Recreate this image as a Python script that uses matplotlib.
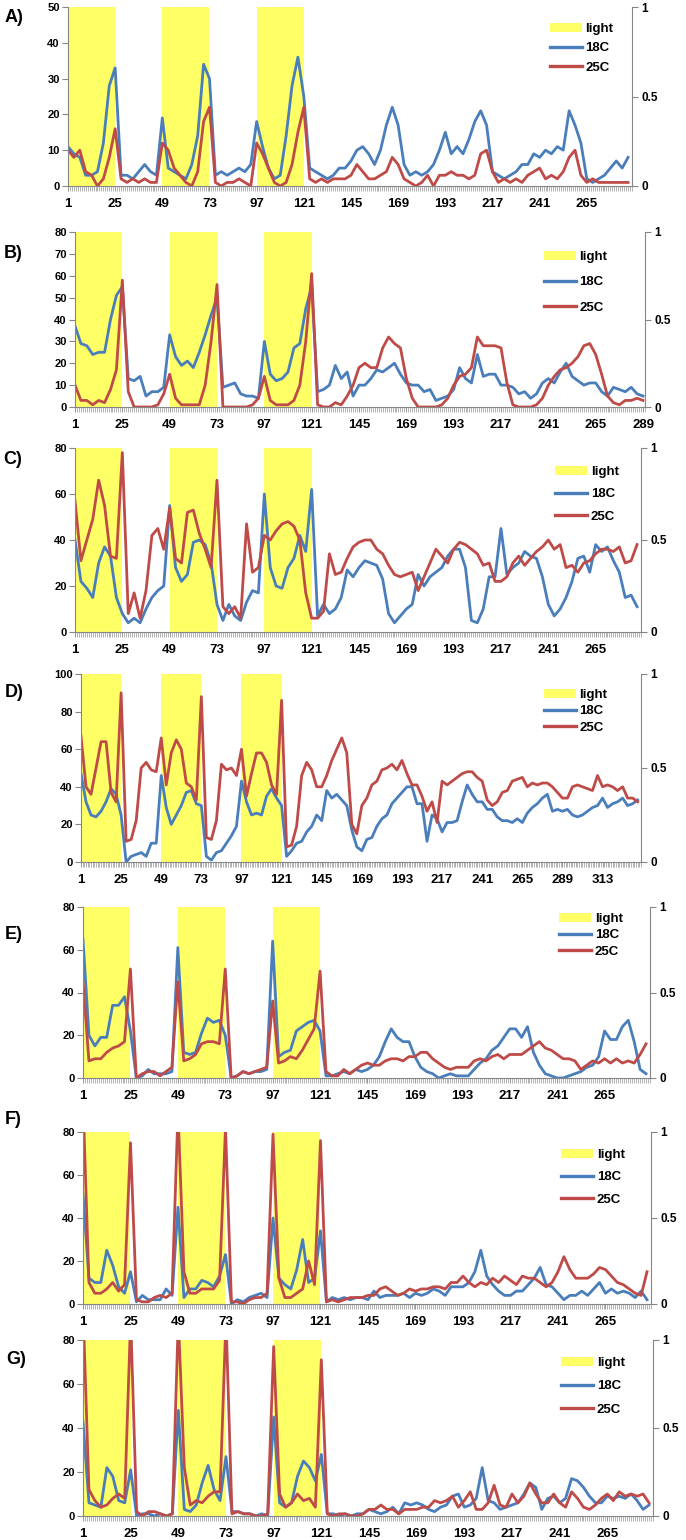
# Seven panels: 18C vs 25C time courses with light periods shaded
import numpy as np
import matplotlib
matplotlib.use("Agg")
import matplotlib.pyplot as plt
from matplotlib.patches import Patch
from matplotlib.lines import Line2D

plt.rcParams['font.family'] = ['Liberation Sans', 'DejaVu Sans']
plt.rcParams['font.weight'] = 'bold'

W, H = 686, 1540

# readings at every third time point (1, 4, 7, ...)
STEP = 3

# light periods in time points (same for every panel)
light_start = [1, 49, 97]
light_end = [25, 73, 121]

panel_names = ["A)", "B)", "C)", "D)", "E)", "F)", "G)"]
n_points = [288, 290, 288, 336, 288, 288, 288]
y_max = [50, 80, 80, 100, 80, 80, 80]
y_step = [10, 10, 20, 20, 20, 20, 20]

a_18c = [11, 9, 8, 3, 3, 4, 12, 28, 33, 3, 3, 2, 4, 6, 4, 3, 19, 5, 4, 3,
         2, 6, 14, 34, 30, 3, 4, 3, 4, 5, 4, 6, 18, 11, 5, 2, 3, 14, 28, 36,
         25, 5, 4, 3, 2, 3, 5, 5, 7, 10, 11, 9, 6, 10, 17, 22, 17, 6, 3, 4,
         3, 4, 6, 10, 15, 9, 11, 9, 13, 18, 21, 17, 4, 3, 2, 3, 4, 6, 6, 9,
         8, 10, 9, 11, 10, 21, 17, 12, 2, 1, 2, 3, 5, 7, 5, 8]
a_25c = [10, 8, 10, 4, 3, 0, 2, 8, 16, 2, 1, 2, 1, 2, 1, 1, 12, 10, 5, 3,
         1, 0, 4, 18, 22, 1, 0, 1, 1, 2, 1, 0, 12, 9, 5, 1, 0, 1, 6, 15,
         22, 2, 1, 2, 1, 2, 2, 2, 3, 6, 4, 2, 2, 3, 4, 8, 6, 2, 1, 0,
         1, 3, 0, 3, 3, 4, 3, 3, 2, 3, 9, 10, 4, 1, 2, 1, 2, 1, 3, 4,
         5, 2, 3, 2, 4, 8, 10, 3, 1, 2, 1, 1, 1, 1, 1, 1]

b_18c = [37, 29, 28, 24, 25, 25, 40, 51, 55, 13, 12, 14, 5, 7, 7, 9, 33, 23, 19, 21,
         18, 25, 33, 42, 50, 9, 10, 11, 6, 5, 5, 4, 30, 15, 12, 13, 16, 27, 29, 45,
         55, 7, 8, 10, 19, 13, 16, 5, 10, 10, 13, 17, 16, 18, 20, 15, 11, 10, 10, 7,
         8, 3, 4, 5, 8, 18, 13, 11, 24, 14, 15, 15, 10, 10, 9, 6, 7, 4, 6, 11,
         13, 11, 16, 20, 14, 12, 10, 11, 11, 7, 5, 9, 8, 7, 9, 6, 5]
b_25c = [10, 3, 3, 1, 3, 2, 8, 17, 58, 7, 0, 0, 0, 0, 1, 6, 15, 4, 1, 1,
         1, 1, 10, 30, 56, 0, 0, 0, 0, 0, 1, 4, 14, 3, 1, 1, 1, 3, 10, 30,
         61, 1, 0, 0, 2, 1, 5, 10, 18, 20, 18, 18, 27, 32, 29, 27, 13, 4, 0, 0,
         0, 0, 1, 4, 10, 14, 15, 18, 32, 28, 28, 28, 27, 11, 1, 0, 0, 0, 1, 4,
         10, 14, 17, 18, 20, 23, 28, 29, 24, 15, 5, 2, 1, 3, 3, 4, 3]

c_18c = [40, 22, 19, 15, 30, 37, 33, 15, 8, 4, 6, 4, 10, 15, 18, 20, 55, 28, 22, 25,
         39, 40, 38, 30, 12, 5, 12, 7, 5, 13, 18, 17, 60, 28, 20, 19, 28, 32, 42, 35,
         62, 7, 12, 8, 10, 15, 27, 24, 28, 31, 30, 29, 23, 8, 4, 7, 10, 12, 25, 20,
         24, 26, 28, 33, 36, 36, 28, 5, 4, 10, 24, 24, 45, 25, 28, 30, 35, 33, 32, 24,
         12, 7, 10, 15, 22, 32, 33, 26, 38, 35, 37, 31, 26, 15, 16, 11]
c_25c = [57, 31, 40, 49, 66, 55, 33, 32, 78, 8, 17, 6, 18, 42, 45, 36, 54, 32, 30, 52,
         53, 43, 36, 28, 66, 11, 8, 11, 6, 47, 26, 28, 42, 40, 44, 47, 48, 46, 40, 17,
         6, 6, 9, 34, 25, 26, 32, 37, 39, 40, 40, 36, 34, 29, 25, 24, 25, 26, 18, 24,
         30, 36, 33, 30, 36, 39, 38, 36, 34, 29, 30, 22, 22, 24, 30, 33, 29, 32, 35, 37,
         40, 36, 38, 28, 29, 26, 30, 31, 34, 36, 36, 35, 37, 30, 31, 38]

d_18c = [47, 32, 25, 24, 27, 32, 39, 36, 25, 0, 3, 4, 5, 3, 10, 10, 46, 29, 20, 25,
         30, 37, 38, 31, 30, 3, 1, 5, 6, 10, 14, 19, 43, 32, 25, 26, 25, 35, 39, 34,
         30, 3, 6, 10, 11, 16, 19, 25, 22, 38, 34, 36, 33, 30, 17, 8, 6, 12, 13, 19,
         23, 25, 31, 34, 37, 40, 40, 31, 31, 11, 25, 23, 16, 21, 21, 22, 32, 41, 36, 32,
         32, 28, 28, 24, 22, 22, 21, 23, 21, 26, 29, 31, 34, 36, 27, 28, 27, 28, 25, 24,
         25, 27, 29, 30, 34, 29, 31, 32, 34, 30, 31, 33]
d_25c = [67, 40, 36, 50, 64, 64, 37, 32, 90, 11, 12, 22, 50, 53, 49, 48, 66, 41, 58, 65,
         60, 42, 40, 33, 88, 13, 12, 22, 52, 49, 50, 46, 60, 35, 47, 58, 58, 53, 41, 36,
         86, 8, 9, 19, 46, 53, 49, 40, 40, 46, 54, 60, 66, 58, 20, 15, 30, 34, 41, 43,
         49, 50, 52, 49, 54, 47, 41, 41, 35, 27, 32, 21, 43, 41, 43, 45, 47, 48, 48, 45,
         43, 33, 30, 32, 37, 38, 43, 44, 45, 40, 42, 41, 42, 42, 40, 37, 34, 34, 40, 41,
         40, 39, 38, 46, 40, 41, 40, 38, 40, 34, 34, 32]

e_18c = [65, 20, 15, 19, 19, 34, 34, 38, 22, 0, 1, 4, 2, 2, 2, 3, 61, 12, 11, 12,
         21, 28, 26, 27, 20, 0, 1, 3, 2, 3, 3, 4, 64, 10, 12, 13, 22, 24, 26, 27,
         22, 1, 1, 2, 3, 2, 4, 3, 4, 6, 10, 17, 23, 19, 17, 17, 10, 5, 3, 2,
         0, 1, 2, 1, 1, 1, 4, 7, 9, 13, 15, 19, 23, 23, 19, 24, 12, 6, 2, 1,
         0, 0, 1, 2, 3, 5, 6, 10, 22, 18, 18, 24, 27, 17, 4, 2]
e_25c = [45, 8, 9, 9, 12, 14, 15, 17, 51, 0, 2, 3, 3, 1, 3, 5, 45, 8, 9, 11,
         16, 17, 17, 16, 51, 0, 1, 3, 2, 3, 4, 5, 36, 7, 8, 10, 9, 13, 18, 23,
         50, 3, 1, 1, 4, 2, 4, 6, 7, 6, 6, 8, 9, 9, 8, 10, 10, 12, 12, 9,
         7, 5, 4, 5, 5, 5, 8, 9, 8, 10, 11, 9, 11, 11, 11, 13, 15, 17, 14, 13,
         11, 9, 9, 8, 4, 6, 8, 7, 9, 7, 9, 7, 8, 7, 11, 16]

f_18c = [51, 12, 10, 10, 25, 18, 8, 5, 15, 1, 4, 2, 2, 2, 7, 4, 45, 3, 7, 7,
         11, 10, 8, 13, 23, 0, 2, 1, 3, 4, 5, 3, 40, 12, 9, 7, 16, 30, 10, 12,
         34, 1, 3, 2, 3, 2, 3, 3, 2, 6, 3, 4, 4, 4, 5, 3, 5, 4, 5, 7,
         6, 4, 8, 8, 8, 10, 15, 25, 13, 9, 6, 4, 4, 6, 6, 9, 12, 17, 9, 8,
         5, 2, 4, 4, 6, 4, 7, 10, 5, 7, 5, 6, 5, 3, 6, 2]
f_25c = [95, 10, 5, 5, 7, 10, 6, 9, 75, 2, 1, 1, 3, 4, 3, 5, 90, 15, 5, 5,
         7, 7, 7, 11, 82, 1, 1, 0, 2, 3, 3, 5, 79, 12, 3, 3, 5, 7, 20, 9,
         76, 1, 2, 1, 2, 3, 3, 3, 4, 4, 7, 8, 6, 4, 5, 7, 6, 7, 7, 8,
         8, 7, 10, 10, 13, 10, 8, 10, 9, 12, 10, 13, 11, 9, 13, 12, 12, 10, 8, 10,
         15, 22, 16, 12, 12, 12, 14, 17, 16, 13, 10, 9, 7, 5, 4, 15]

g_18c = [43, 6, 5, 4, 22, 18, 7, 6, 21, 0, 1, 1, 0, 1, 0, 1, 48, 3, 2, 5,
         15, 23, 12, 7, 27, 2, 2, 1, 1, 0, 1, 0, 45, 6, 4, 6, 18, 25, 22, 16,
         28, 1, 1, 0, 1, 0, 1, 1, 3, 2, 1, 2, 4, 1, 6, 5, 6, 5, 3, 2,
         4, 5, 9, 10, 4, 5, 8, 22, 7, 6, 3, 4, 5, 6, 10, 15, 13, 3, 8, 9,
         6, 8, 17, 16, 13, 9, 6, 6, 9, 8, 9, 8, 10, 7, 3, 5]
g_25c = [95, 12, 7, 4, 5, 8, 10, 8, 90, 2, 0, 2, 2, 1, 0, 1, 90, 22, 5, 7,
         6, 9, 11, 11, 90, 1, 2, 1, 1, 0, 0, 1, 77, 10, 4, 6, 10, 7, 8, 4,
         71, 1, 0, 1, 1, 0, 0, 1, 3, 3, 5, 3, 3, 1, 3, 3, 3, 4, 4, 7,
         6, 7, 9, 4, 7, 11, 3, 3, 6, 14, 5, 4, 10, 6, 9, 15, 10, 6, 6, 10,
         6, 4, 11, 8, 4, 3, 5, 8, 10, 7, 11, 9, 10, 9, 10, 6]

series_18c = [a_18c, b_18c, c_18c, d_18c, e_18c, f_18c, g_18c]
series_25c = [a_25c, b_25c, c_25c, d_25c, e_25c, f_25c, g_25c]

# plot boxes in pixels: left, top, right, bottom
boxes = [(68, 7, 632, 186), (75, 232, 645, 407), (75, 448, 641, 632),
         (81, 674, 641, 862), (83, 907, 650, 1078), (83, 1132, 651, 1304),
         (83, 1340, 653, 1516)]
# panel letter centres in pixels
name_pos = [(14, 18), (13, 253), (13, 460), (14, 693), (14, 935), (13, 1120), (16, 1360)]
# legend: left of patch, centre of first row, row spacing (pixels)
legend_pos = [(550, 29, 19), (544, 257, 25), (555, 472, 22), (544, 695, 16),
              (559, 919, 16), (561, 1155, 22), (561, 1363, 23)]

BLUE = '#4A7EBB'
RED = '#BE4B48'
YELLOW = '#FFFF66'
GRAY = '#868686'


def draw_panel(fig, i):
    l, t, r, b = boxes[i]
    n = n_points[i]
    ax = fig.add_axes([l / W, 1 - b / H, (r - l) / W, (b - t) / H])
    ax2 = ax.twinx()

    # light periods as columns on the secondary axis
    starts = np.array(light_start)
    widths = np.array(light_end) - starts
    ax2.bar(starts, np.ones(len(starts)), width=widths, align='edge',
            color=YELLOW, linewidth=0)
    ax2.set_ylim(0, 1)
    ax2.set_yticks([0, 0.5, 1])
    ax2.set_yticklabels(['0', '0.5', '1'])
    ax2.tick_params(axis='y', length=4, width=0.8, color=GRAY, labelsize=8.5, pad=3)
    for s in ['top', 'left', 'bottom']:
        ax2.spines[s].set_visible(False)
    ax2.spines['right'].set_color(GRAY)

    s18 = series_18c[i]
    s25 = series_25c[i]
    x18 = 1 + STEP * np.arange(len(s18))
    x25 = 1 + STEP * np.arange(len(s25))
    ax.plot(x18, s18, color=BLUE, lw=2.0, solid_joinstyle='round')
    ax.plot(x25, s25, color=RED, lw=2.0, solid_joinstyle='round')

    # lines above the yellow columns
    ax.set_zorder(ax2.get_zorder() + 1)
    ax.patch.set_visible(False)

    ax.set_xlim(1, n)
    ax.set_ylim(0, y_max[i])
    ax.set_yticks(np.arange(0, y_max[i] + 1, y_step[i]))
    ax.tick_params(axis='y', length=4, width=0.8, color=GRAY, labelsize=8, pad=2)

    major = list(range(1, n + 1, 24))
    ax.set_xticks(major)
    ax.set_xticklabels([str(v) for v in major])
    ax.set_xticks(np.arange(1, n + 1), minor=True)
    ax.tick_params(axis='x', which='major', length=3.5, width=0.6, color=GRAY,
                   labelsize=9.5, pad=5)
    ax.tick_params(axis='x', which='minor', length=3.5, width=0.6, color='#A6A6A6')

    ax.spines['top'].set_visible(False)
    ax.spines['right'].set_visible(False)
    ax.spines['left'].set_color(GRAY)
    ax.spines['bottom'].set_color(GRAY)

    # legend
    lx, ly, gap = legend_pos[i]
    fs = 9.5
    fs_px = fs * 100 / 72
    handles = [Patch(facecolor=YELLOW, edgecolor='none'),
               Line2D([], [], color=BLUE, lw=2.4),
               Line2D([], [], color=RED, lw=2.4)]
    spacing = max(0.0, (gap - 12) / fs_px)
    ax.legend(handles, ['light', '18C', '25C'], loc='upper left',
              bbox_to_anchor=(lx / W, 1 - (ly - 6) / H),
              bbox_transform=fig.transFigure, frameon=False, borderpad=0,
              borderaxespad=0, handlelength=2.4, handletextpad=0.3,
              labelspacing=spacing, prop={'size': fs, 'weight': 'bold'})

    nx, ny = name_pos[i]
    fig.text(nx / W, 1 - ny / H, panel_names[i], ha='center', va='center',
             fontsize=13, fontweight='bold')


fig = plt.figure(figsize=(W / 100, H / 100), dpi=100)
for i in range(len(panel_names)):
    draw_panel(fig, i)
fig.savefig("out.png", dpi=100)
